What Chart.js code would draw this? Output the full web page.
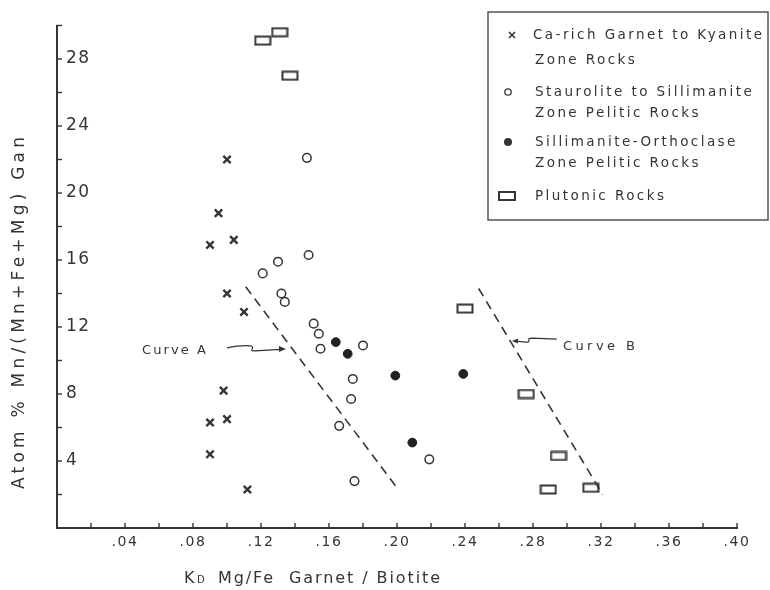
<!DOCTYPE html>
<html>
<head>
<meta charset="utf-8">
<script src="https://cdn.jsdelivr.net/npm/chart.js@4.4.1/dist/chart.umd.min.js"></script>
<style>
html, body { margin: 0; padding: 0; background: #fff; }
</style>
</head>
<body>
<canvas id="myChart" width="770" height="590"></canvas>
<script>
// values
const caRichX = [0.100, 0.095, 0.090, 0.104, 0.100, 0.110, 0.098, 0.090, 0.100, 0.090, 0.112]
const caRichY = [22.0, 18.8, 16.9, 17.2, 14.0, 12.9, 8.2, 6.3, 6.5, 4.4, 2.3]

const stauroX = [0.147, 0.148, 0.130, 0.121, 0.132, 0.134, 0.151, 0.154, 0.155, 0.180, 0.174, 0.173, 0.166, 0.175, 0.219]
const stauroY = [22.1, 16.3, 15.9, 15.2, 14.0, 13.5, 12.2, 11.6, 10.7, 10.9, 8.9, 7.7, 6.1, 2.8, 4.1]

const sillOrthX = [0.164, 0.171, 0.199, 0.239, 0.209]
const sillOrthY = [11.1, 10.4, 9.1, 9.2, 5.1]

const plutonicX = [0.121, 0.131, 0.137, 0.240, 0.276, 0.295, 0.289, 0.314]
const plutonicY = [29.1, 29.6, 27.0, 13.1, 8.0, 4.3, 2.3, 2.4]

const curveAX = [0.111, 0.200]
const curveAY = [14.4, 2.4]
const curveBX = [0.248, 0.321]
const curveBY = [14.3, 2.0]

const xTickLabels = ['.04', '.08', '.12', '.16', '.20', '.24', '.28', '.32', '.36', '.40']
const yTickLabels = ['4', '8', '12', '16', '20', '24', '28']

const seriesLabels = [
	['Ca-rich Garnet to Kyanite', 'Zone Rocks'],
	['Staurolite to Sillimanite', 'Zone Pelitic Rocks'],
	['Sillimanite-Orthoclase', 'Zone Pelitic Rocks'],
	['Plutonic Rocks']
]

const ink = '#353535'
const font = 'DejaVu Sans'

function toPoints(xs, ys) {
	return xs.map((x, i) => ({ x: x, y: ys[i] }))
}

// wide open box used for the plutonic rocks
function rectMarker() {
	var c = document.createElement('canvas')
	c.width = 18
	c.height = 11
	var g = c.getContext('2d')
	g.strokeStyle = ink
	g.lineWidth = 2
	g.strokeRect(1.5, 1.5, 15, 8)
	return c
}
const boxPoint = rectMarker()

function fitSpacing(ctx, text, width) {
	ctx.letterSpacing = '0px'
	var w = ctx.measureText(text).width
	return (width - w) / Math.max(1, text.length - 1)
}

function spacedText(ctx, text, x, y, width) {
	var sp = fitSpacing(ctx, text, width)
	ctx.letterSpacing = sp + 'px'
	ctx.fillText(text, x, y)
	ctx.letterSpacing = '0px'
}

function drawSymbol(ctx, kind, x, y) {
	ctx.save()
	ctx.strokeStyle = ink
	ctx.fillStyle = ink
	if (kind == 0) {
		ctx.lineWidth = 1.7
		ctx.beginPath()
		ctx.moveTo(x - 3, y - 3); ctx.lineTo(x + 3, y + 3)
		ctx.moveTo(x + 3, y - 3); ctx.lineTo(x - 3, y + 3)
		ctx.stroke()
	} else if (kind == 1) {
		ctx.lineWidth = 1.3
		ctx.beginPath(); ctx.arc(x, y, 3.2, 0, Math.PI * 2); ctx.stroke()
	} else if (kind == 2) {
		ctx.beginPath(); ctx.arc(x, y, 4, 0, Math.PI * 2); ctx.fill()
	} else {
		ctx.lineWidth = 2
		ctx.strokeRect(x - 8, y - 4, 16, 8)
	}
	ctx.restore()
}

const paperPlugin = {
	id: 'paper',
	beforeDraw(chart) {
		chart.ctx.letterSpacing = '1.5px'
	},
	afterDraw(chart) {
		var ctx = chart.ctx
		var xs = chart.scales.x
		var ys = chart.scales.y
		ctx.save()
		ctx.letterSpacing = '0px'
		ctx.strokeStyle = ink
		ctx.lineWidth = 1.4

		// short ticks pointing into the plot
		xs.ticks.forEach(function (t) {
			if (t.value <= 0) return
			var px = xs.getPixelForValue(t.value)
			ctx.beginPath(); ctx.moveTo(px, xs.top + 1); ctx.lineTo(px, xs.top - 5); ctx.stroke()
		})
		ys.ticks.forEach(function (t) {
			if (t.value <= 0) return
			var py = ys.getPixelForValue(t.value)
			ctx.beginPath(); ctx.moveTo(ys.right - 1, py); ctx.lineTo(ys.right + 5, py); ctx.stroke()
		})

		ctx.fillStyle = ink
		ctx.textBaseline = 'middle'
		ctx.textAlign = 'left'

		// y title
		ctx.save()
		ctx.translate(20, 311)
		ctx.rotate(-Math.PI / 2)
		ctx.font = '17px "' + font + '"'
		spacedText(ctx, 'Atom % Mn/(Mn+Fe+Mg) Gan', -178, 0, 352)
		ctx.restore()

		// x title
		ctx.font = '16px "' + font + '"'
		ctx.textBaseline = 'alphabetic'
		ctx.fillText('K', 184, 583)
		ctx.font = '10px "' + font + '"'
		ctx.letterSpacing = '0px'
		ctx.fillText('D', 197, 583)
		ctx.font = '16px "' + font + '"'
		spacedText(ctx, 'Mg/Fe  Garnet / Biotite', 218, 583, 222)

		// curve labels with their little wavy pointers
		ctx.textBaseline = 'middle'
		ctx.font = '13px "' + font + '"'
		spacedText(ctx, 'Curve A', xs.getPixelForValue(0.050), ys.getPixelForValue(10.57), 64)
		spacedText(ctx, 'Curve B', xs.getPixelForValue(0.2976), ys.getPixelForValue(10.8), 72)

		ctx.lineWidth = 1.2
		var ax = xs.getPixelForValue(0.100), ay = ys.getPixelForValue(10.75)
		var tipA = xs.getPixelForValue(0.1347), tipAy = ys.getPixelForValue(10.69)
		ctx.beginPath()
		ctx.moveTo(ax, ay)
		ctx.quadraticCurveTo(ax + 14, ay - 3, ax + 23, ay - 2)
		ctx.bezierCurveTo(ax + 30, ay - 1, ax + 20, ay + 3, ax + 28, ay + 3)
		ctx.lineTo(tipA - 5, tipAy + 0.5)
		ctx.stroke()
		ctx.beginPath()
		ctx.moveTo(tipA, tipAy); ctx.lineTo(tipA - 7, tipAy - 3); ctx.lineTo(tipA - 7, tipAy + 3); ctx.closePath(); ctx.fill()

		var bx = xs.getPixelForValue(0.294), by = ys.getPixelForValue(11.28)
		var tipB = xs.getPixelForValue(0.2676), tipBy = ys.getPixelForValue(11.16)
		ctx.beginPath()
		ctx.moveTo(bx, by)
		ctx.lineTo(bx - 25, by - 1)
		ctx.bezierCurveTo(bx - 32, by - 1, bx - 24, by + 4, bx - 31, by + 3)
		ctx.lineTo(tipB + 4, tipBy)
		ctx.stroke()
		ctx.beginPath()
		ctx.moveTo(tipB, tipBy); ctx.lineTo(tipB + 6, tipBy - 2.5); ctx.lineTo(tipB + 6, tipBy + 2.5); ctx.closePath(); ctx.fill()

		// legend box
		ctx.strokeStyle = '#555'
		ctx.lineWidth = 1.5
		ctx.strokeRect(488, 12, 280, 208)
		ctx.font = '13.5px "' + font + '"'
		var sp = fitSpacing(ctx, seriesLabels[0][0], 229)
		var rows = [[35, 60], [92, 113], [142, 163], [196]]
		var symX = [512, 508, 508, 507]
		seriesLabels.forEach(function (lines, i) {
			drawSymbol(ctx, i, symX[i], rows[i][0])
			lines.forEach(function (ln, j) {
				ctx.letterSpacing = sp + 'px'
				ctx.fillText(ln, j == 0 && i == 0 ? 533 : 535, rows[i][j])
			})
		})
		ctx.restore()
	}
}

var ctx = document.getElementById('myChart').getContext('2d')

var myChart = new Chart(ctx, {
	type: 'scatter',
	data: {
		datasets: [
			{
				label: seriesLabels[0].join(' '),
				data: toPoints(caRichX, caRichY),
				pointStyle: 'crossRot',
				pointRadius: 5.2,
				pointBorderWidth: 2.4,
				borderColor: ink,
				backgroundColor: ink
			},
			{
				label: seriesLabels[1].join(' '),
				data: toPoints(stauroX, stauroY),
				pointStyle: 'circle',
				pointRadius: 4.3,
				pointBorderWidth: 1.5,
				borderColor: ink,
				backgroundColor: '#fff'
			},
			{
				label: seriesLabels[2].join(' '),
				data: toPoints(sillOrthX, sillOrthY),
				pointStyle: 'circle',
				pointRadius: 4.4,
				pointBorderWidth: 1,
				borderColor: '#222',
				backgroundColor: '#222'
			},
			{
				label: seriesLabels[3].join(' '),
				data: toPoints(plutonicX, plutonicY),
				pointStyle: boxPoint,
				borderColor: ink,
				backgroundColor: ink
			},
			{
				label: 'Curve A',
				data: toPoints(curveAX, curveAY),
				showLine: true,
				borderDash: [9, 6],
				borderWidth: 1.6,
				borderColor: ink,
				pointRadius: 0
			},
			{
				label: 'Curve B',
				data: toPoints(curveBX, curveBY),
				showLine: true,
				borderDash: [9, 6],
				borderWidth: 1.6,
				borderColor: ink,
				pointRadius: 0
			}
		]
	},
	options: {
		responsive: false,
		animation: false,
		devicePixelRatio: 1,
		layout: { padding: { top: 25.5, right: 33, left: 0, bottom: 0 } },
		plugins: {
			legend: { display: false },
			tooltip: { enabled: false }
		},
		scales: {
			x: {
				type: 'linear',
				min: 0,
				max: 0.40,
				afterFit: function (s) { s.height = 62 },
				grid: { display: true, drawOnChartArea: false, drawTicks: false },
				border: { display: true, color: ink, width: 2 },
				ticks: {
					stepSize: 0.02,
					autoSkip: false,
					maxRotation: 0,
					padding: 6,
					color: ink,
					font: { family: font, size: 14 },
					callback: function (v, i) {
						return (i > 0 && i % 2 == 0) ? xTickLabels[i / 2 - 1] : ''
					}
				}
			},
			y: {
				type: 'linear',
				min: 0,
				max: 30,
				afterFit: function (s) { s.width = 57 },
				grid: { display: true, drawOnChartArea: false, drawTicks: false },
				border: { display: true, color: ink, width: 2 },
				ticks: {
					stepSize: 2,
					autoSkip: false,
					mirror: true,
					padding: 9,
					color: ink,
					font: { family: font, size: 17 },
					callback: function (v, i) {
						return (i > 0 && i % 2 == 0 && i < 15) ? yTickLabels[i / 2 - 1] : ''
					}
				}
			}
		}
	},
	plugins: [paperPlugin]
})

myChart.update()
</script>
</body>
</html>
